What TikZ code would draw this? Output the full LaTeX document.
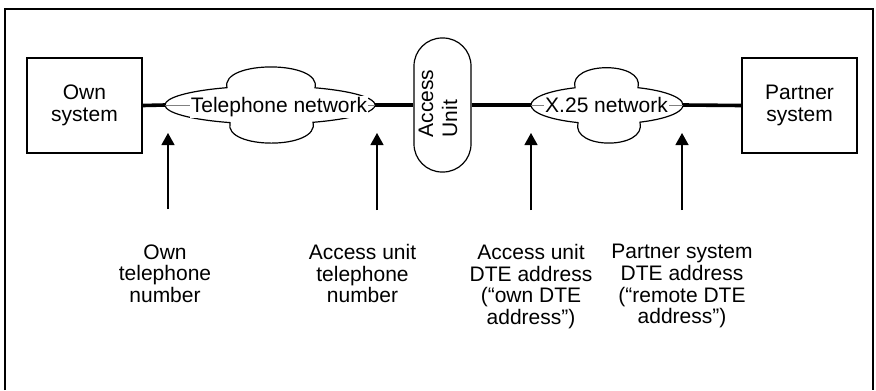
\documentclass[tikz,border=0pt]{standalone}
\usepackage{fontspec}
\setmainfont{Liberation Sans}
\usetikzlibrary{arrows.meta}
\begin{document}
\begin{tikzpicture}[x=0.5pt,y=-0.5pt,
  frameline/.style={line width=0.8pt},
  sysbox/.style={draw, line width=1.2pt, minimum width=57.5pt, minimum height=47.5pt,
    align=center, inner sep=0pt, font=\fontsize{10.5pt}{10.8pt}\selectfont},
  cloudline/.style={draw, fill=white, line width=0.6pt},
  cloudaxis/.style={draw=gray, line width=0.3pt},
  cloudtext/.style={fill=white, inner sep=0.5pt, anchor=base, font=\fontsize{10.5pt}{10.8pt}\selectfont},
  link/.style={line width=1.8pt},
  pointer/.style={line width=0.6pt, -{Triangle[width=6.5pt,length=6pt]}},
  caption/.style={anchor=north, align=center, inner sep=0pt, font=\fontsize{10.5pt}{10.8pt}\selectfont}]
\useasboundingbox (0,0) rectangle (876,390);

% open frame round the figure
\draw[frameline] (5,390) -- (5,9) -- (873,9) -- (873,390);

% end systems
\node[sysbox] (own) at (84.5,105.5) {Own\\system};
\node[sysbox] (partner) at (799.5,105.5) {Partner\\system};

% telephone network cloud
\draw[cloudline] (165,105)
  arc[start angle=180, end angle=245.83, x radius=105, y radius=19]
  .. controls (220,60) and (322,60) .. (315,87.8)
  arc[start angle=295.38, end angle=425.83, x radius=105, y radius=19]
  .. controls (320,150) and (223,150) .. (230,122.6)
  arc[start angle=112.4, end angle=180, x radius=105, y radius=19] -- cycle;
\coordinate (telL) at (165,105);
\coordinate (telR) at (375,105);
\draw[cloudaxis] (telL) -- (telR);
\node[cloudtext] (tel) at (279,112.3) {Telephone network};

% X.25 network cloud
\draw[cloudline] (531,105)
  arc[start angle=180, end angle=245.10, x radius=76, y radius=19]
  .. controls (568,61) and (645,61) .. (638,87.7)
  arc[start angle=294.07, end angle=424.27, x radius=76, y radius=19]
  .. controls (647,150) and (571,150) .. (578,122.6)
  arc[start angle=112.43, end angle=180, x radius=76, y radius=19] -- cycle;
\coordinate (x25L) at (531,105);
\coordinate (x25R) at (683,105);
\draw[cloudaxis] (x25L) -- (x25R);
\node[cloudtext] (x25) at (606.5,112.3) {X.25 network};

% access unit
\node[draw, line width=0.6pt, rounded corners=14pt, minimum width=28.5pt,
  minimum height=67pt, inner sep=0pt] (au) at (442.5,105) {};
\node[rotate=90, align=left, inner sep=0pt,
  font=\fontsize{10.5pt}{12pt}\selectfont] (autext) at (438,103.5) {Access\\Unit};

% line connections
\draw[link] (own.east) -- (telL);
\draw[link] (telR) -- (au.west);
\draw[link] (au.east) -- (x25L);
\draw[link] (x25R) -- (partner.west);

% address captions
\node[caption] (c1) at (165,244) {Own\\telephone\\number};
\node[caption] (c2) at (362.5,244) {Access unit\\telephone\\number};
\node[caption] (c3) at (531,244) {Access unit\\DTE address\\(“own DTE\\address”)};
\node[caption] (c4) at (682,244) {Partner system\\DTE address\\(“remote DTE\\address”)};

% pointers from captions up to the line
\coordinate (p1a) at (168,209); \coordinate (p1b) at (168,133);
\coordinate (p2a) at (377,210); \coordinate (p2b) at (377,133);
\coordinate (p3a) at (531,210); \coordinate (p3b) at (531,133);
\coordinate (p4a) at (682,210); \coordinate (p4b) at (682,133);
\draw[pointer] (p1a) -- (p1b);
\draw[pointer] (p2a) -- (p2b);
\draw[pointer] (p3a) -- (p3b);
\draw[pointer] (p4a) -- (p4b);
\end{tikzpicture}
\end{document}
